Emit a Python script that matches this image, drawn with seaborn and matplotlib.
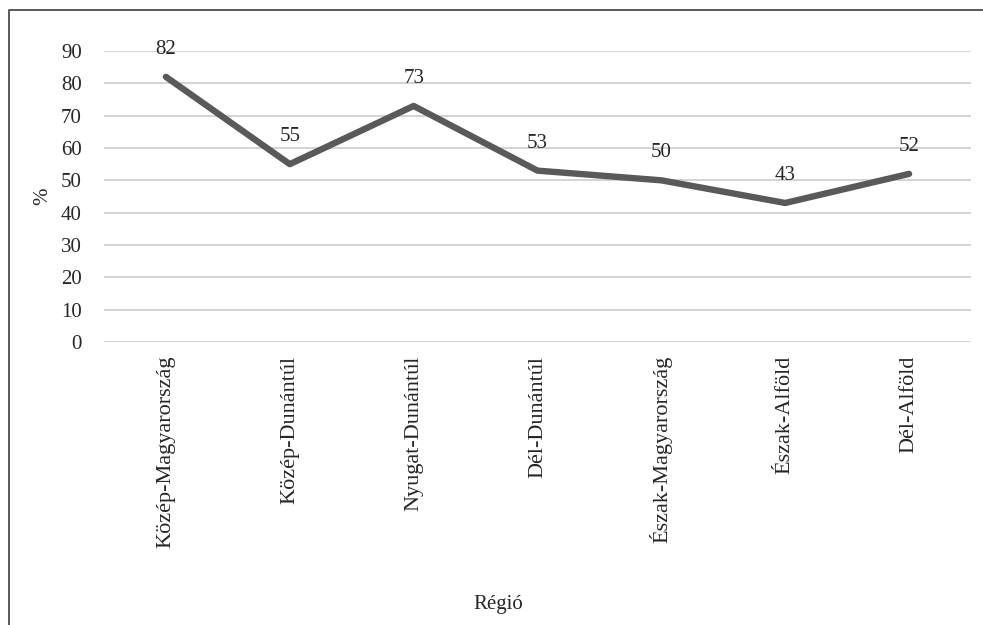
import matplotlib
matplotlib.use("Agg")
import matplotlib.pyplot as plt
import seaborn as sns
import pandas as pd
from matplotlib.lines import Line2D

# chart data
regiok = ["Közép-Magyarország", "Közép-Dunántúl", "Nyugat-Dunántúl", "Dél-Dunántúl",
          "Észak-Magyarország", "Észak-Alföld", "Dél-Alföld"]
ertekek = [82, 55, 73, 53, 50, 43, 52]
y_ticks = [0, 10, 20, 30, 40, 50, 60, 70, 80, 90]

df = pd.DataFrame({"Régió": regiok, "%": ertekek})

sns.set_theme(style="white")
plt.rcParams['font.family'] = ['Liberation Serif', 'DejaVu Serif']

FS = 15
TXT = "#262626"

fig = plt.figure(figsize=(9.83, 6.25), dpi=100)
ax = fig.add_axes([0.1058, 0.4528, 0.882, 0.4656])

sns.lineplot(data=df, x="Régió", y="%", ax=ax, color="#595959", linewidth=4.6,
             sort=False, solid_capstyle="round")

# data labels above the points
for i, v in enumerate(ertekek):
    ax.annotate(str(v), (i, v), xytext=(0, 13), textcoords="offset points",
                ha="center", va="bottom", fontsize=FS, color=TXT)

ax.set_xlim(-0.5, len(regiok) - 0.5)
ax.set_ylim(0, 90)
ax.set_yticks(y_ticks)
ax.set_xticks(range(len(regiok)))
ax.set_xticklabels(regiok, rotation=90, fontsize=16, color=TXT)
ax.tick_params(axis="y", labelsize=FS, labelcolor=TXT, pad=16, length=0)
ax.tick_params(axis="x", pad=10, length=0)
ax.yaxis.grid(True, color="#d0d0d0", linewidth=1.3)
ax.set_axisbelow(True)
for s in ax.spines.values():
    s.set_visible(False)

ax.set_ylabel("%", fontsize=FS, color=TXT)
ax.set_xlabel("Régió", fontsize=FS, color=TXT)
ax.xaxis.set_label_coords(0.455, -0.87)
ax.yaxis.set_label_coords(-0.06, 0.5)

# outer frame (left and top only, as in the source)
fig.add_artist(Line2D([0.0092, 0.0092, 1.0], [0.0, 0.984, 0.984],
                      transform=fig.transFigure, color="#595959", linewidth=1.4))

fig.savefig("out.png", dpi=100)
